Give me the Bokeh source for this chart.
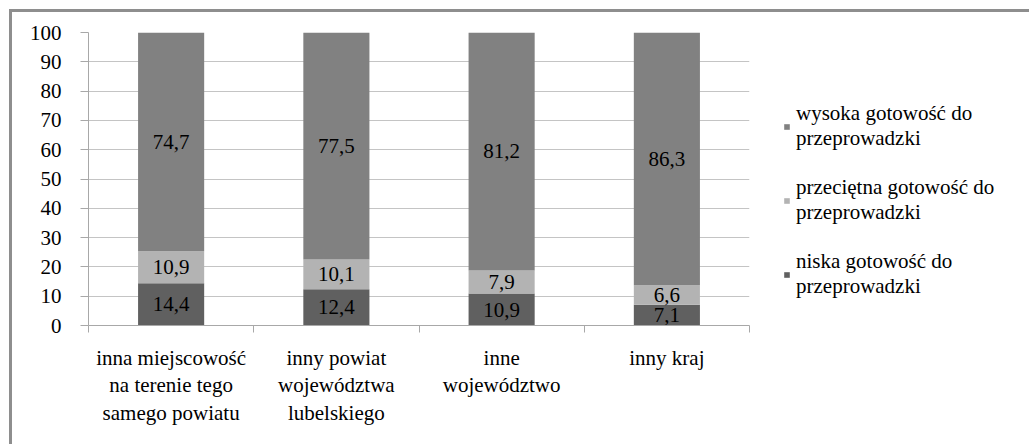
from bokeh.plotting import figure
from bokeh.models import (Range1d, FixedTicker, Legend, LegendItem, ColumnDataSource)
from bokeh.core.properties import value
from bokeh.embed import file_html
from bokeh.resources import INLINE

categories = ["inna miejscowość\nna terenie tego\nsamego powiatu",
              "inny powiat\nwojewództwa\nlubelskiego",
              "inne\nwojewództwo",
              "inny kraj"]
series_names = ["niska gotowość do\nprzeprowadzki",
                "przeciętna gotowość do\nprzeprowadzki",
                "wysoka gotowość do\nprzeprowadzki"]
low = [14.4, 12.4, 10.9, 7.1]
mid = [10.9, 10.1, 7.9, 6.6]
high = [74.7, 77.5, 81.2, 86.3]
y_ticks = [0, 10, 20, 30, 40, 50, 60, 70, 80, 90, 100]

colors = ["#606060", "#b3b3b3", "#818181"]
FONT = "Liberation Serif"
FS = "21px"

xs = [i + 0.5 for i in range(len(categories))]
bounds = list(range(len(categories) + 1))

src = ColumnDataSource(dict(x=xs, low=low, mid=mid, high=high))

p = figure(frame_width=661, frame_height=293, output_backend="svg", toolbar_location=None,
           x_range=Range1d(0, len(categories)), y_range=Range1d(0, 100),
           min_border_left=76, min_border_top=20, min_border_bottom=119,
           min_border_right=278)
p.outline_line_color = None
p.styles = {"border-left": "3px solid #8e8e8e", "border-top": "3px solid #8e8e8e",
            "margin-left": "9px", "margin-top": "9px"}

renderers = p.vbar_stack(["low", "mid", "high"], x="x", width=0.4, source=src,
                         color=colors, line_color=None)

# data labels centred in each segment
for vals, base in [(low, [0] * 4), (mid, low), (high, [a + b for a, b in zip(low, mid)])]:
    ys = [b + v / 2 for b, v in zip(base, vals)]
    txt = [f"{v:.1f}".replace(".", ",") for v in vals]
    p.text(x=xs, y=ys, text=txt, text_align="center", text_baseline="middle",
           text_font=value(FONT), text_font_size=FS, text_color="#000000")

# y axis
p.yaxis.ticker = FixedTicker(ticks=y_ticks)
p.yaxis.major_tick_out = 8
p.yaxis.major_tick_in = 0
p.yaxis.minor_tick_out = 0
p.yaxis.minor_tick_in = 0
p.yaxis.axis_line_color = "#a8a8a8"
p.yaxis.major_tick_line_color = "#a8a8a8"
p.yaxis.major_label_text_font = FONT
p.yaxis.major_label_text_font_size = FS
p.yaxis.major_label_text_color = "#000000"
p.yaxis.major_label_standoff = 19

# x axis: labels at category centres, ticks at category boundaries
p.xaxis.ticker = FixedTicker(ticks=xs, minor_ticks=bounds)
p.xaxis.major_label_overrides = {x: c for x, c in zip(xs, categories)}
p.xaxis.major_tick_out = 0
p.xaxis.major_tick_in = 0
p.xaxis.minor_tick_out = 7
p.xaxis.minor_tick_in = 0
p.xaxis.minor_tick_line_color = "#a8a8a8"
p.xaxis.axis_line_color = "#a8a8a8"
p.xaxis.major_label_text_font = FONT
p.xaxis.major_label_text_font_size = FS
p.xaxis.major_label_text_color = "#000000"
p.xaxis.major_label_text_line_height = 1.15
p.xaxis.major_label_standoff = 13

p.xgrid.grid_line_color = None
p.ygrid.ticker = FixedTicker(ticks=y_ticks)
p.ygrid.grid_line_color = "#c4c4c4"
p.ygrid.grid_line_width = 1

items = [LegendItem(label=series_names[i], renderers=[renderers[i]]) for i in [2, 1, 0]]
legend = Legend(items=items, location=(34, 26), orientation="vertical",
                border_line_color=None, background_fill_alpha=0,
                label_text_font=FONT, label_text_font_size=FS, label_text_color="#000000",
                glyph_width=7, glyph_height=7, label_standoff=6, spacing=24,
                padding=0, margin=0, label_text_line_height=1.3)
p.add_layout(legend, "right")

open("out.html", "w").write(file_html(p, INLINE))
